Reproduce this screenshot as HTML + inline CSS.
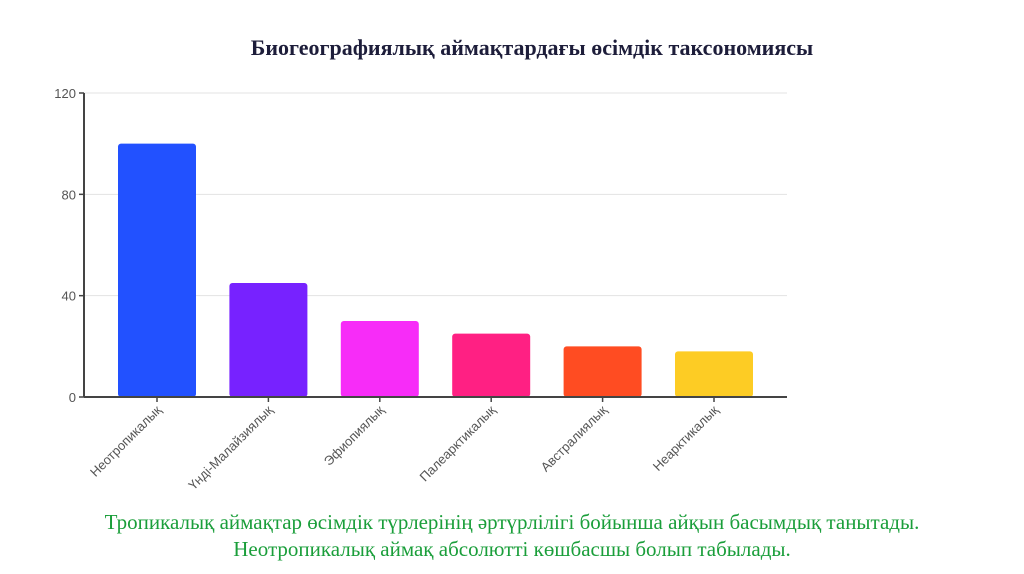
<!DOCTYPE html>
<html><head><meta charset="utf-8"><style>
body{margin:0;width:1024px;height:574px;background:#fff;overflow:hidden;position:relative;font-family:"Liberation Sans",sans-serif}
#title{position:absolute;left:0;width:1064px;top:35px;text-align:center;font:bold 22px "Liberation Serif",serif;color:#1d1d3a}
#note{position:absolute;left:0;width:1024px;top:509px;text-align:center;font:21px "Liberation Serif",serif;color:#1a9e3a;line-height:27px}
svg{position:absolute;left:0;top:0}
</style></head><body>
<div id="title">Биогеографиялық аймақтардағы өсімдік таксономиясы</div>
<svg id="c" width="1024" height="574"></svg>
<div id="note">Тропикалық аймақтар өсімдік түрлерінің әртүрлілігі бойынша айқын басымдық танытады.<br>Неотропикалық аймақ абсолютті көшбасшы болып табылады.</div>
<script>
const categories=["Неотропикалық","Үнді-Малайзиялық","Эфиопиялық","Палеарктикалық","Австралиялық","Неарктикалық"];
const values=[100,45,30,25,20,18];
const colors=["#2251ff","#7722ff","#f72cf8","#ff2083","#ff4c22","#fdcc24"];
const yTicks=[0,40,80,120];
const svg=document.getElementById('c');const NS="http://www.w3.org/2000/svg";
const y0=397,y1=93,ymax=120,x0=84,x1=787;
const y=v=>y0-(v/ymax)*(y0-y1);
const x=i=>157+i*111.4;
function mk(t,a){const e=document.createElementNS(NS,t);for(const k in a)e.setAttribute(k,a[k]);svg.appendChild(e);return e;}
yTicks.forEach(t=>{
 if(t>0){const g=mk('line',{x1:x0,x2:x1,y1:y(t),y2:y(t),stroke:'#e3e3e3','stroke-width':1});
 
 }
 const tk=mk('line',{x1:x0-5,x2:x0,y1:y(t),y2:y(t),stroke:'#444','stroke-width':1.5});
 
 
 const l=mk('text',{x:x0-8,y:y(t)+5,'text-anchor':'end','font-size':13,fill:'#555'});l.textContent=t;
 
 
});
values.forEach((v,i)=>{
 const b=mk('rect',{x:x(i)-39,y:y(v),width:78,height:y0-y(v),rx:3,fill:colors[i]});
 
 
 const tk=mk('line',{x1:x(i),x2:x(i),y1:y0,y2:y0+5,stroke:'#444','stroke-width':1.5});
 
 
 const l=mk('text',{x:x(i)+5,y:y0+14,'text-anchor':'end','font-size':13,fill:'#555',transform:`rotate(-45 ${x(i)+5} ${y0+14})`});l.textContent=categories[i];
 
 
});
const ya=mk('line',{x1:x0,x2:x0,y1:y1,y2:y0,stroke:'#444','stroke-width':2});


const xa=mk('line',{x1:x0,x2:x1,y1:y0,y2:y0,stroke:'#444','stroke-width':2});


</script>
</body></html>
